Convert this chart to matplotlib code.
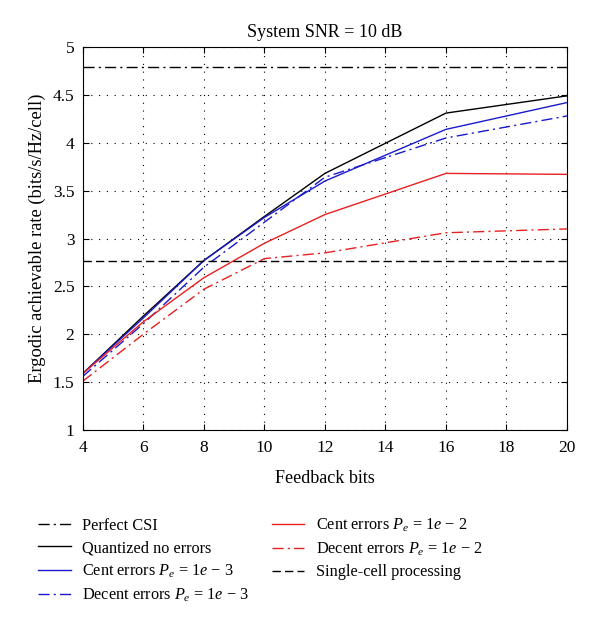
import numpy as np
import matplotlib.pyplot as plt

plt.rcParams['font.family'] = ['Liberation Serif', 'DejaVu Serif']
plt.rcParams['mathtext.fontset'] = 'custom'
plt.rcParams['mathtext.rm'] = 'Liberation Serif'
plt.rcParams['mathtext.it'] = 'Liberation Serif:italic'

# feedback bits
bits = [4, 6, 8, 10, 12, 16, 20]

perfect_csi = 4.79
single_cell = 2.77
quant_no_err = [1.59, 2.19, 2.77, 3.23, 3.68, 4.31, 4.49]
cent_1e3 = [1.59, 2.17, 2.77, 3.22, 3.60, 4.14, 4.42]
decent_1e3 = [1.56, 2.11, 2.70, 3.17, 3.64, 4.05, 4.28]
cent_1e2 = [1.59, 2.13, 2.59, 2.95, 3.25, 3.68, 3.67]
decent_1e2 = [1.51, 2.00, 2.47, 2.79, 2.85, 3.06, 3.10]

blue = '#1a1acc'
red = '#e8201f'
dashdot = (0, (8, 3, 1.5, 3))

fig = plt.figure(figsize=(6.0, 6.22), dpi=100)
ax = fig.add_axes([0.138, 0.3087, 0.807, 0.6157])

ax.axhline(perfect_csi, color='black', lw=1.0, ls=dashdot, label='Perfect CSI')
ax.plot(bits, quant_no_err, color='black', lw=1.0, label='Quantized no errors')
ax.plot(bits, cent_1e3, color=blue, lw=1.0, label='Cent errors $P_e$ = 1$e$ − 3')
ax.plot(bits, decent_1e3, color=blue, lw=1.0, ls=dashdot,
        label='Decent errors $P_e$ = 1$e$ − 3')
ax.plot(bits, cent_1e2, color=red, lw=1.0, label='Cent errors $P_e$ = 1$e$ − 2')
ax.plot(bits, decent_1e2, color=red, lw=1.0, ls=dashdot,
        label='Decent errors $P_e$ = 1$e$ − 2')
ax.axhline(single_cell, color='black', lw=1.0, ls=(0, (6, 3)), label='Single-cell processing')

ax.set_xlim(4, 20)
ax.set_ylim(1, 5)
ax.set_xticks([4, 6, 8, 10, 12, 14, 16, 18, 20])
ax.set_yticks([1, 1.5, 2, 2.5, 3, 3.5, 4, 4.5, 5])
ax.set_yticklabels(['1', '1.5', '2', '2.5', '3', '3.5', '4', '4.5', '5'])
ax.tick_params(direction='in', top=True, right=True, labelsize=12.5, length=4)
ax.tick_params(axis='x', pad=7)
ax.tick_params(axis='y', pad=6)
ax.grid(True, color='black', ls=(0, (1, 6)), lw=0.8)
ax.set_xlabel('Feedback bits', fontsize=13, labelpad=10)
ax.set_ylabel('Ergodic achievable rate (bits/s/Hz/cell)', fontsize=13.3, labelpad=5)
ax.set_title('System SNR = 10 dB', fontsize=13, pad=7)

handles, labels = ax.get_legend_handles_labels()
fig.legend(handles, labels, loc='upper left', bbox_to_anchor=(0.053, 0.18), ncol=2,
           frameon=False, fontsize=11.7, handlelength=2.0, handletextpad=0.7,
           columnspacing=1.4, labelspacing=0.4, borderaxespad=0)

fig.savefig('out.png', dpi=100)
